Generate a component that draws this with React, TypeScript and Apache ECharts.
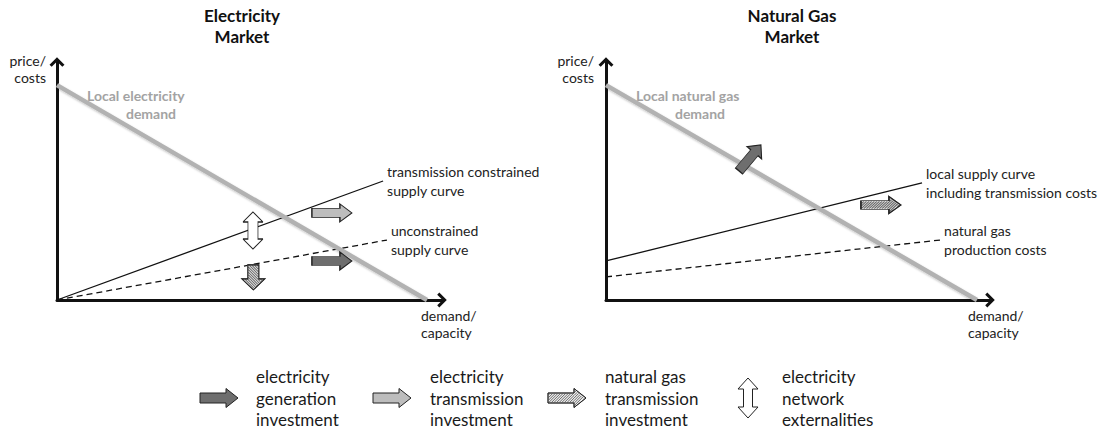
import React, { useEffect, useRef } from "react";
import * as echarts from "echarts";

// ---------------- data (conceptual units, 0–100 on both axes) ----------------
const elecDemand = [[0, 90.3], [96.1, 0]];
const elecConstrained = [[0, 0], [84.7, 50.0]];
const elecUnconstrained = [[0, 0], [85.7, 25.2]];
const elecTransInvest = [[71.4, 36.6]];
const elecGenInvest = [[71.4, 16.4]];
const elecExternality = [[50.9, 29.2]];
const elecGasShift = [[51.0, 9.5]];

const gasDemand = [[0, 90.3], [96.6, 0]];
const gasSupply = [[0, 16.4], [82.3, 49.2]];
const gasProduction = [[0, 9.7], [87.0, 25.2]];
const gasGenInvest = [[37.5, 59.7]];
const gasTransInvest = [[71.6, 39.9]];

const panelTitles = ["Electricity\nMarket", "Natural Gas\nMarket"];
const demandLabelTop = ["Local electricity", "Local natural gas"];
const demandLabelBottom = ["demand", "demand"];
const supplyLabels = ["transmission constrained\nsupply curve", "local supply curve\nincluding transmission costs"];
const baseLabels = ["unconstrained\nsupply curve", "natural gas\nproduction costs"];
const yAxisName = "price/\ncosts";
const xAxisName = "demand/\ncapacity";
const legendLabels = [
  "electricity\ngeneration\ninvestment",
  "electricity\ntransmission\ninvestment",
  "natural gas\ntransmission\ninvestment",
  "electricity\nnetwork\nexternalities",
];

// ---------------- shapes ----------------
const FONT = 'Lato, "Open Sans", "DejaVu Sans", sans-serif';
const DARK = "#6e6e6e";
const LIGHT = "#bdbdbd";
const HATCH_BG = "#ececec";
const HATCH_LINE = "#6a6a6a";
const EDGE = "#222";

type P = [number, number];

function clipSeg(p0: P, p1: P, poly: P[]): [P, P] | null {
  const cx = poly.reduce((s, p) => s + p[0], 0) / poly.length;
  const cy = poly.reduce((s, p) => s + p[1], 0) / poly.length;
  let t0 = 0, t1 = 1;
  const dx = p1[0] - p0[0], dy = p1[1] - p0[1];
  for (let i = 0; i < poly.length; i++) {
    const a = poly[i], b = poly[(i + 1) % poly.length];
    let nx = -(b[1] - a[1]), ny = b[0] - a[0];
    if (nx * (cx - a[0]) + ny * (cy - a[1]) < 0) { nx = -nx; ny = -ny; }
    const num = nx * (p0[0] - a[0]) + ny * (p0[1] - a[1]);
    const den = nx * dx + ny * dy;
    if (Math.abs(den) < 1e-9) { if (num < 0) return null; continue; }
    const t = -num / den;
    if (den > 0) t0 = Math.max(t0, t); else t1 = Math.min(t1, t);
    if (t0 >= t1) return null;
  }
  const f = (t: number): P => [+(p0[0] + dx * t).toFixed(2), +(p0[1] + dy * t).toFixed(2)];
  return [f(t0), f(t1)];
}

function rightArrow(L: number, H: number, bodyH: number, headL: number, hatch = 0): string {
  const yb0 = (H - bodyH) / 2, yb1 = (H + bodyH) / 2, xh = L - headL;
  const outline: P[] = [[0, yb0], [xh, yb0], [xh, 0], [L, H / 2], [xh, H], [xh, yb1], [0, yb1]];
  let d = "M" + outline.map((p) => p.join(" ")).join(" L") + " Z";
  if (hatch > 0) {
    const body: P[] = [[0.6, yb0 + 0.6], [xh, yb0 + 0.6], [xh, yb1 - 0.6], [0.6, yb1 - 0.6]];
    const head: P[] = [[xh, 1.2], [L - 1.4, H / 2], [xh, H - 1.2]];
    for (let c = -H; c < L + H; c += hatch) {
      const p0: P = [c - (H + 1), H + 1];
      const p1: P = [c + 1, -1];
      for (const poly of [body, head]) {
        const s = clipSeg(p0, p1, poly);
        if (s) d += ` M${s[0][0]} ${s[0][1]} L${s[1][0]} ${s[1][1]}`;
      }
    }
  }
  return d;
}

function doubleArrow(W: number, H: number, bodyW: number, headH: number): string {
  const x0 = (W - bodyW) / 2, x1 = (W + bodyW) / 2;
  const pts: P[] = [[W / 2, 0], [W, headH], [x1, headH], [x1, H - headH], [W, H - headH], [W / 2, H], [0, H - headH], [x0, H - headH], [x0, headH], [0, headH]];
  return "M" + pts.map((p) => p.join(" ")).join(" L") + " Z";
}

const ARROW = rightArrow(40, 18, 9, 12);
const ARROW_HATCH = rightArrow(40, 18, 9, 12, 2.6);
const DOWN = rightArrow(25, 23, 11, 11);
const DOWN_HATCH = rightArrow(25, 23, 11, 11, 2.6);
const DOUBLE = doubleArrow(20, 37, 10, 10);
const LEG_ARROW = rightArrow(38, 19, 10, 12);
const LEG_HATCH = rightArrow(38, 19, 10, 12, 2.6);
const LEG_DOUBLE = doubleArrow(20, 40, 9, 11);
const AXIS_HEAD = "path://M7.5 0 L15 7.5 L12.8 9.6 L7.5 4.2 L2.2 9.6 L0 7.5 Z";

echarts.graphic.registerShape("legArrow", echarts.graphic.extendPath(LEG_ARROW, {}));
echarts.graphic.registerShape("legHatch", echarts.graphic.extendPath(LEG_HATCH, {}));
echarts.graphic.registerShape("legDouble", echarts.graphic.extendPath(LEG_DOUBLE, {}));

// ---------------- option ----------------
function buildOption(): any {
  const grids = [
    { left: 57, top: 62, width: 385, height: 238 },
    { left: 606, top: 62, width: 384, height: 238 },
  ];
  const axisLine = {
    show: true,
    onZero: false,
    symbol: ["none", AXIS_HEAD],
    symbolSize: [15, 10],
    lineStyle: { color: "#111", width: 3 },
  };
  const hidden = { axisTick: { show: false }, axisLabel: { show: false }, splitLine: { show: false } };
  const nameStyle = { fontFamily: FONT, fontSize: 14, color: "#222", lineHeight: 17 };
  const xAxes = [0, 1].map((i) => ({
    type: "value", gridIndex: i, min: 0, max: 100, axisLine, ...hidden,
    name: xAxisName, nameLocation: "end", nameGap: i === 0 ? -21 : -22,
    nameTextStyle: { ...nameStyle, align: "left", verticalAlign: "top", padding: [7, 0, 0, 0] },
  }));
  const yAxes = [0, 1].map((i) => ({
    type: "value", gridIndex: i, min: 0, max: 100, axisLine, ...hidden,
    name: yAxisName, nameLocation: "end", nameGap: -7,
    nameTextStyle: { ...nameStyle, align: "right", verticalAlign: "middle", padding: [0, i === 0 ? 11 : 12, 0, 0] },
  }));

  const labelStyle = { fontFamily: FONT, fontSize: 14, color: "#222", lineHeight: 19 };
  const demandStyle = {
    color: "#b2b2b2", width: 4.5,
    shadowBlur: 2, shadowColor: "rgba(0,0,0,0.25)", shadowOffsetY: 1,
  };
  const line = (i: number, data: number[][], lineStyle: any, label?: string, z = 3) => ({
    type: "line", xAxisIndex: i, yAxisIndex: i, data, symbol: "none", silent: true, z,
    lineStyle,
    endLabel: label
      ? { show: true, formatter: label, ...labelStyle, distance: 4, align: "left", verticalAlign: "middle" }
      : { show: false },
  });
  const mark = (i: number, data: number[][], path: string, size: number[], fill: string, rotate = 0, stroke = EDGE, z = 6) => ({
    type: "scatter", xAxisIndex: i, yAxisIndex: i, data, silent: true, z,
    symbol: "path://" + path, symbolSize: size, symbolRotate: rotate,
    itemStyle: { color: fill, borderColor: stroke, borderWidth: 1, opacity: 1 },
  });

  const series = [
    line(0, elecConstrained, { color: "#111", width: 1.3 }, supplyLabels[0]),
    line(0, elecUnconstrained, { color: "#111", width: 1.3, type: [6, 4] }, baseLabels[0]),
    line(0, elecDemand, demandStyle, undefined, 4),
    mark(0, elecTransInvest, ARROW, [40, 18], LIGHT),
    mark(0, elecGenInvest, ARROW, [40, 18], DARK),
    mark(0, elecExternality, DOUBLE, [20, 37], "#ffffff"),
    mark(0, elecGasShift, DOWN_HATCH, [25, 23], HATCH_BG, -90, HATCH_LINE, 6),
    mark(0, elecGasShift, DOWN, [25, 23], "none", -90, EDGE, 7),

    line(1, gasSupply, { color: "#111", width: 1.3 }, supplyLabels[1]),
    line(1, gasProduction, { color: "#111", width: 1.3, type: [6, 4] }, baseLabels[1]),
    line(1, gasDemand, demandStyle, undefined, 4),
    mark(1, gasGenInvest, ARROW, [34, 19], DARK, 50),
    mark(1, gasTransInvest, ARROW_HATCH, [40, 17], HATCH_BG, 0, HATCH_LINE, 6),
    mark(1, gasTransInvest, ARROW, [40, 17], "none", 0, EDGE, 7),
  ];

  const titleX = [242, 792];
  const demandTopX = [87, 636];
  const demandBottomX = [151, 700];
  const graphic: any[] = [];
  panelTitles.forEach((t, i) => {
    graphic.push({
      type: "text", x: titleX[i], y: 25.5, silent: true,
      style: { text: t, fontFamily: FONT, fontSize: 17, fontWeight: "bold", fill: "#111", align: "center", verticalAlign: "middle", lineHeight: 21 },
    });
    graphic.push({
      type: "text", x: demandTopX[i], y: 95, silent: true,
      style: { text: demandLabelTop[i], fontFamily: FONT, fontSize: 14, fontWeight: "bold", fill: "#a3a3a3", align: "left", verticalAlign: "middle" },
    });
    graphic.push({
      type: "text", x: demandBottomX[i], y: 113, silent: true,
      style: { text: demandLabelBottom[i], fontFamily: FONT, fontSize: 14, fontWeight: "bold", fill: "#a3a3a3", align: "center", verticalAlign: "middle" },
    });
  });

  const legShapes = [
    { type: "legArrow", x: 200, y: 388.5, fill: DARK, stroke: EDGE },
    { type: "legArrow", x: 373, y: 388.5, fill: LIGHT, stroke: EDGE },
    { type: "legHatch", x: 548, y: 388.5, fill: HATCH_BG, stroke: HATCH_LINE },
    { type: "legDouble", x: 738, y: 378, fill: "#ffffff", stroke: EDGE },
  ];
  const legTextX = [256, 430, 605, 782];
  legShapes.forEach((s, i) => {
    graphic.push({ type: s.type, x: s.x, y: s.y, silent: true, z: 1, style: { fill: s.fill, stroke: s.stroke, lineWidth: 1 } });
    if (s.type === "legHatch") {
      graphic.push({ type: "legArrow", x: s.x, y: s.y, silent: true, z: 2, style: { fill: "none", stroke: EDGE, lineWidth: 1 } });
    }
    graphic.push({
      type: "text", x: legTextX[i], y: 398, silent: true,
      style: { text: legendLabels[i], fontFamily: FONT, fontSize: 17, fill: "#1a1a1a", align: "left", verticalAlign: "middle", lineHeight: 21.5 },
    });
  });

  return {
    animation: false,
    backgroundColor: "#ffffff",
    grid: grids,
    xAxis: xAxes,
    yAxis: yAxes,
    series,
    graphic,
  };
}

export default function App() {
  const ref = useRef<HTMLDivElement>(null);
  useEffect(() => {
    document.body.style.margin = "0";
    if (!ref.current) return;
    const chart = echarts.init(ref.current, undefined, { renderer: "svg" });
    chart.setOption(buildOption());
    return () => chart.dispose();
  }, []);
  return <div ref={ref} style={{ position: "absolute", left: 0, top: 0, width: 1101, height: 432 }} />;
}
